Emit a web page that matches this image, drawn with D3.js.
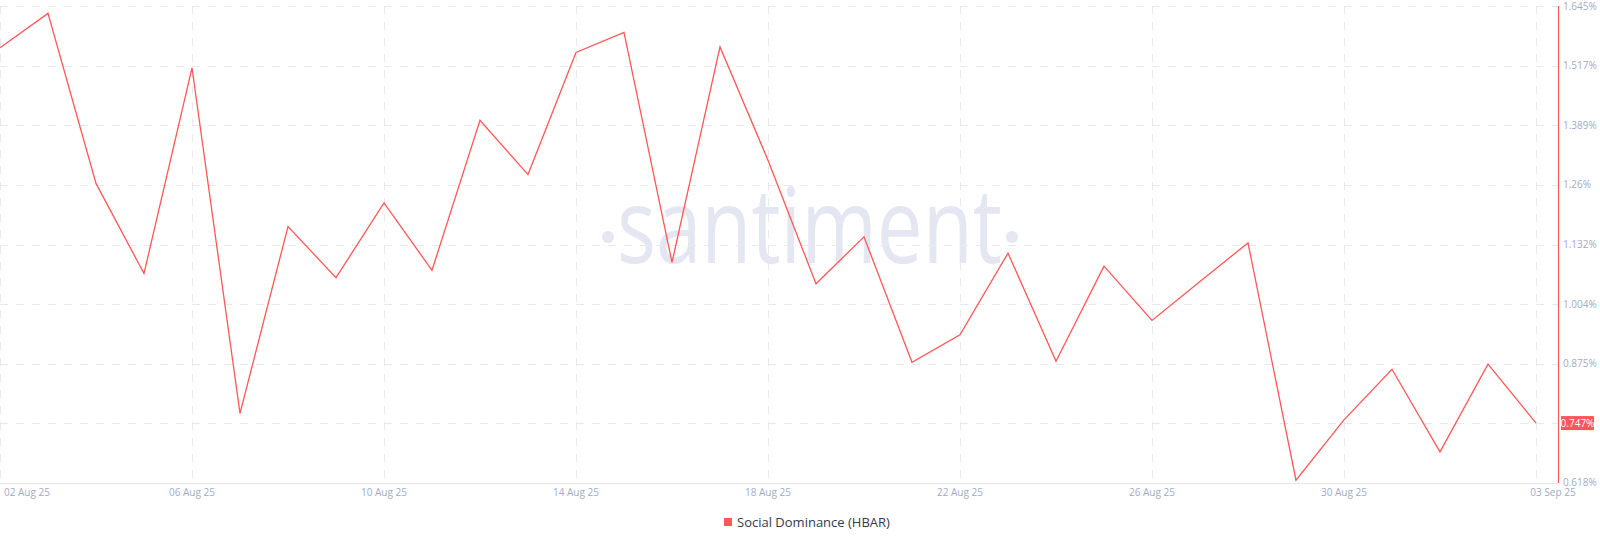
<!DOCTYPE html>
<html><head><meta charset="utf-8">
<script src="https://cdn.jsdelivr.net/npm/d3@7"></script>
<style>
html,body{margin:0;padding:0;background:#fff;}
svg{display:block;font-family:"Open Sans","Liberation Sans",sans-serif;}
</style></head>
<body><svg id="chart" width="1600" height="542"></svg>
<script>
const dates = ["2025-08-02","2025-08-03","2025-08-04","2025-08-05","2025-08-06","2025-08-07","2025-08-08","2025-08-09","2025-08-10","2025-08-11","2025-08-12","2025-08-13","2025-08-14","2025-08-15","2025-08-16","2025-08-17","2025-08-18","2025-08-19","2025-08-20","2025-08-21","2025-08-22","2025-08-23","2025-08-24","2025-08-25","2025-08-26","2025-08-27","2025-08-28","2025-08-29","2025-08-30","2025-08-31","2025-09-01","2025-09-02","2025-09-03"];
const socialDominance = [1.555,1.629,1.263,1.069,1.512,0.768,1.170,1.060,1.221,1.076,1.399,1.282,1.545,1.588,1.093,1.557,1.313,1.047,1.148,0.878,0.937,1.113,0.880,1.085,0.968,1.052,1.135,0.624,0.754,0.863,0.685,0.874,0.747];
const yTickValues = [0.618,0.7464,0.8747,1.0031,1.1315,1.2599,1.3883,1.5166,1.645];
const yTickLabels = ["0.618%","","0.875%","1.004%","1.132%","1.26%","1.389%","1.517%","1.645%"];
const xTickDates = ["2025-08-02","2025-08-06","2025-08-10","2025-08-14","2025-08-18","2025-08-22","2025-08-26","2025-08-30","2025-09-03"];
const xTickLabels = ["02 Aug 25","06 Aug 25","10 Aug 25","14 Aug 25","18 Aug 25","22 Aug 25","26 Aug 25","30 Aug 25","03 Sep 25"];
const seriesName = "Social Dominance (HBAR)";
const lastLabel = "0.747%";

(function(){
const parse = d3.utcParse("%Y-%m-%d");
const data = dates.map((d,i)=>({date:parse(d), v:socialDominance[i]}));
const svg = d3.select("#chart");
const axisX = 1558, plotTop = 6, plotBottom = 483;
const x = d3.scaleUtc().domain([parse(dates[0]), parse(dates[dates.length-1])]).range([0, 1536]);
const y = d3.scaleLinear().domain([0.618, 1.645]).range([plotBottom, plotTop]);
const red = "#ff5757", grid = "#e7e9f1", tickCol = "#a3aac5";

// watermark
const wm = svg.append("g").attr("fill","#e4e7f1");
wm.append("text").attr("x",617).attr("y",263).attr("font-size",104).attr("font-weight",400)
  .attr("textLength",385).attr("lengthAdjust","spacingAndGlyphs").text("santiment");
wm.append("circle").attr("cx",608).attr("cy",237).attr("r",6);
wm.append("circle").attr("cx",1012).attr("cy",237).attr("r",6);

// horizontal grid
svg.append("g").selectAll("line").data(yTickValues.slice(1)).join("line")
  .attr("x1",0).attr("x2",axisX).attr("y1",d=>Math.round(y(d))+0.5).attr("y2",d=>Math.round(y(d))+0.5)
  .attr("stroke",grid).attr("stroke-dasharray","8,8");
// vertical grid
svg.append("g").selectAll("line").data(xTickDates).join("line")
  .attr("x1",d=>Math.round(x(parse(d)))+0.5).attr("x2",d=>Math.round(x(parse(d)))+0.5)
  .attr("y1",plotTop).attr("y2",plotBottom).attr("stroke",grid).attr("stroke-dasharray","8,8");

// bottom axis line
svg.append("line").attr("x1",0).attr("x2",axisX).attr("y1",plotBottom+0.5).attr("y2",plotBottom+0.5).attr("stroke","#e3e6ee");

// x labels
svg.append("g").selectAll("text").data(xTickDates).join("text")
  .attr("x",(d,i)=> i===0 ? 4 : (i===xTickDates.length-1 ? x(parse(d))+17 : x(parse(d))))
  .attr("text-anchor",(d,i)=> i===0 ? "start" : "middle")
  .attr("y",496).attr("font-size",10).attr("fill",tickCol)
  .text((d,i)=>xTickLabels[i]);

// right axis
svg.append("line").attr("x1",axisX+0.5).attr("x2",axisX+0.5).attr("y1",plotTop).attr("y2",plotBottom).attr("stroke",red).attr("stroke-width",1.2);
svg.append("g").selectAll("text").data(yTickValues).join("text")
  .attr("x",1563).attr("y",(d,i)=>y(d)+(i===0?2.5:3.5)).attr("font-size",10).attr("fill",tickCol)
  .text((d,i)=>yTickLabels[i]);

// line
svg.append("path").datum(data)
  .attr("d", d3.line().x(d=>x(d.date)).y(d=>y(d.v)))
  .attr("fill","none").attr("stroke",red).attr("stroke-width",1.3);

// last value badge
const lv = socialDominance[socialDominance.length-1];
svg.append("rect").attr("x",1561).attr("y",y(lv)-7).attr("width",33).attr("height",14).attr("fill",red);
svg.append("text").attr("x",1577.5).attr("y",y(lv)+3.5).attr("text-anchor","middle").attr("font-size",10)
  .attr("fill","#fff").text(lastLabel);

// legend
svg.append("rect").attr("x",724).attr("y",518).attr("width",8).attr("height",8).attr("fill",red);
svg.append("text").attr("x",737).attr("y",526.5).attr("font-size",13).attr("fill","#353a4e").text(seriesName);
})();
</script></body></html>
